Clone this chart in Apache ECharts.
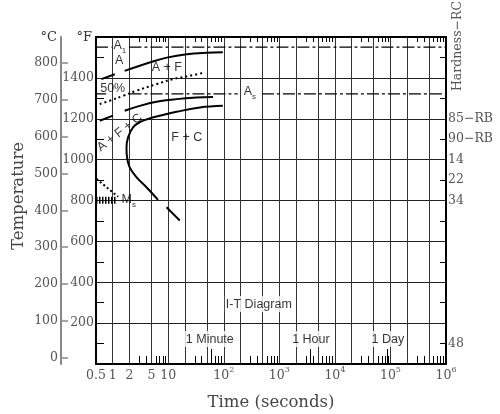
<!DOCTYPE html>
<html><head><meta charset="utf-8">
<script src="https://cdn.jsdelivr.net/npm/echarts@6/dist/echarts.min.js"></script>
<style>html,body{margin:0;padding:0;background:#fff}#c{width:500px;height:414px}</style>
</head><body><div id="c"></div>
<script>
// ---- data (time in seconds, temperature in °F) ----
const gridTimes = [1,2,5,10,20,50,100,200,500,1e3,2e3,5e3,1e4,2e4,5e4,1e5,2e5,5e5];
const minorMantissas = [3,4,6,7,8,9];
const decades = [1,10,100,1e3,1e4,1e5];
const markTimes = [60, 3600, 86400];
const timeLabels = [0.5,1,2,5,10,100,1e3,1e4,1e5,1e6];
const fLabels = [200,400,600,800,1000,1200,1400];
const cLabels = [0,100,200,300,400,500,600,700,800];
const hardnessTemps = [1200,1100,1000,900,800,100];
const hardnessText = ['85−RB','90−RB','14','22','34','48'];

const curveUpperA = [[0.625,1394],[1.09,1418]];
const curveUpperB = [[1.64,1434],[4.6,1475],[9.4,1499],[21.5,1516],[49,1523],[96,1525]];
const curve50 = [[0.583,1272],[0.88,1288],[1.53,1312],[2.67,1337],[6.1,1369],[12.2,1394],[24.4,1410],[42,1424]];
const curveLowerA = [[0.583,1190],[1.01,1215]];
const curveLowerB = [[1.64,1239],[3.06,1263],[6.1,1283],[14,1296],[32,1304],[64,1307]];
const curveNoseA = [[96,1263],[37,1255],[14.1,1234],[7,1215],[4.64,1202],[3.06,1183],[2.32,1158],[1.89,1109],[1.77,1060],[1.81,1011],[2.02,962],[2.67,914],[4.05,865],[6.55,803]];
const curveNoseB = [[9.3,767],[16.1,702]];
const a1Segments = [[[0.5,1550],[0.95,1550]],[[2,1550],[1e6,1550]]];
const asSegments = [[[0.5,1322],[0.76,1322]],[[2,1322],[178,1322]],[[485,1322],[1e6,1322]]];
const msHatch = [[0.5,801],[1.18,801]];
const msArrow = [[0.51,906],[1.25,818]];
const plotLabels = [
  {text:'{m|A}{u|1}', x:1.34, y:1553},
  {text:'A', x:1.3, y:1483},
  {text:'A + F', x:9.4, y:1449},
  {text:'50%', x:1.0, y:1346},
  {text:'A + F + C', x:1.33, y:1132, rotate:38},
  {text:'F + C', x:21.5, y:1107},
  {text:'{m|A}{u|s}', x:294, y:1327},
  {text:'{m|M}{v|s}', x:1.94, y:797},
  {text:'I-T Diagram', x:427, y:293, bg:true},
  {text:'1 Minute', x:56, y:122, bg:true},
  {text:'1 Hour', x:3700, y:122, bg:true},
  {text:'1 Day', x:90000, y:122, bg:true}
];

const minorTimes = [];
decades.forEach(d => minorMantissas.forEach(m => minorTimes.push(m * d)));

const SERIF = 'DejaVu Serif';
const SANS = 'Liberation Sans';
const LABEL_COLOR = '#555';

function fmtTime(v) {
  if (v >= 100) return '{b|10}{s|' + Math.round(Math.log10(v)) + '}';
  return '{b|' + v + '}';
}

const xBase = { type:'log', logBase:10, min:0.5, max:1e6, gridIndex:0 };
const hiddenLabel = { show:false };
const noSplit = { show:false };

const curveStyle = { color:'#000', width:2 };
function lineSeries(data, style, smooth) {
  return { type:'line', xAxisIndex:0, yAxisIndex:0, data:data, symbol:'none', smooth: smooth || false,
    lineStyle: style, silent:true, z:3, animation:false };
}

const series = [
  lineSeries(curveUpperA, curveStyle),
  lineSeries(curveUpperB, curveStyle, 0.4),
  lineSeries(curve50, { color:'#000', width:2, type:[2,3] }, 0.4),
  lineSeries(curveLowerA, curveStyle),
  lineSeries(curveLowerB, curveStyle, 0.4),
  lineSeries(curveNoseA, curveStyle, 0.4),
  lineSeries(curveNoseB, curveStyle),
  lineSeries(msHatch, { color:'#000', width:7, type:[1.5,1.5] }),
  lineSeries(msArrow, { color:'#000', width:2, type:[2,2.5] })
];
a1Segments.concat(asSegments).forEach(seg => series.push(lineSeries(seg, { color:'#000', width:1.2, type:[12,3,3,3] })));
series.push({
  type:'scatter', xAxisIndex:0, yAxisIndex:0, symbolSize:1, z:5, silent:true,
  itemStyle:{ color:'rgba(0,0,0,0)' },
  data: plotLabels.map(l => ({
    value:[l.x, l.y], text:l.text,
    label: Object.assign({ rotate: l.rotate || 0 }, l.bg ? { backgroundColor:'#fff', padding:[2,1,1,1] } : {})
  })),
  label:{
    show:true, position:'inside', color:'#000', fontFamily:SANS, fontSize:12.5,
    formatter: p => p.data.text,
    rich:{
      m:{ fontFamily:SANS, fontSize:12.5, color:'#000', lineHeight:16, verticalAlign:'top' },
      u:{ fontFamily:SANS, fontSize:8, color:'#000', lineHeight:8, verticalAlign:'bottom' },
      v:{ fontFamily:SANS, fontSize:8, color:'#000', lineHeight:8, verticalAlign:'bottom', padding:[4,0,0,0] }
    }
  }
});

const option = {
  animation:false,
  backgroundColor:'#fff',
  grid:{ left:96, right:54, top:37, bottom:50, containLabel:false, outerBoundsMode:'none' },
  xAxis:[
    Object.assign({}, xBase, {
      position:'bottom', name:'Time (seconds)', nameLocation:'middle', nameGap:30, nameMoveOverlap:false,
      nameTextStyle:{ fontFamily:SERIF, fontSize:16.5, color:'#444' },
      axisLine:{ show:true, onZero:false, lineStyle:{ color:'#000', width:2 } },
      axisTick:{ show:false, customValues: gridTimes },
      splitLine:{ show:true, lineStyle:{ color:'#333', width:1 } },
      minorTick:{ show:false }, minorSplitLine:{ show:false },
      axisLabel:{ customValues: timeLabels, formatter: fmtTime, margin:2, color:LABEL_COLOR,
        rich:{
          b:{ fontFamily:SERIF, fontSize:12.5, color:LABEL_COLOR, lineHeight:16, verticalAlign:'bottom' },
          s:{ fontFamily:SERIF, fontSize:8, color:LABEL_COLOR, lineHeight:10, verticalAlign:'top' }
        } }
    }),
    Object.assign({}, xBase, {
      position:'bottom', axisLine:{ show:false, onZero:false },
      axisTick:{ show:true, inside:true, length:8, customValues: minorTimes, lineStyle:{ color:'#000', width:1 } },
      axisLabel: hiddenLabel, splitLine: noSplit
    }),
    Object.assign({}, xBase, {
      position:'bottom', axisLine:{ show:false, onZero:false },
      axisTick:{ show:true, inside:true, length:15, customValues: markTimes, lineStyle:{ color:'#000', width:1 } },
      axisLabel: hiddenLabel, splitLine: noSplit
    }),
    Object.assign({}, xBase, {
      position:'top', axisLine:{ show:true, onZero:false, lineStyle:{ color:'#000', width:2 } },
      axisTick:{ show:true, inside:true, length:5, customValues: minorTimes, lineStyle:{ color:'#000', width:1 } },
      axisLabel: hiddenLabel, splitLine: noSplit
    })
  ],
  yAxis:[
    {
      type:'value', min:0, max:1600, interval:200, position:'left',
      name:'°F', nameLocation:'end', nameGap:-1,
      nameTextStyle:{ fontFamily:SERIF, fontSize:13, color:'#333', align:'right', verticalAlign:'middle', padding:[0,4,0,0] },
      axisLine:{ show:true, onZero:false, lineStyle:{ color:'#000', width:2 } },
      axisTick:{ show:false, inside:true },
      minorTick:{ show:true, splitNumber:2, length:8, lineStyle:{ color:'#000', width:1 } },
      axisLabel:{ customValues: fLabels, formatter: v => String(v), margin:2, fontFamily:SERIF, fontSize:12.5, color:LABEL_COLOR },
      splitLine:{ show:true, lineStyle:{ color:'#222', width:1 } }
    },
    {
      type:'value', min:(0 - 32) * 5 / 9, max:(1600 - 32) * 5 / 9, position:'left', offset:35,
      name:'°C', nameLocation:'end', nameGap:-1,
      nameTextStyle:{ fontFamily:SERIF, fontSize:13, color:'#333', align:'right', verticalAlign:'middle', padding:[0,4,0,0] },
      axisLine:{ show:true, onZero:false, lineStyle:{ color:'#888', width:2 } },
      axisTick:{ show:true, inside:true, length:7, customValues: cLabels, lineStyle:{ color:'#888', width:1.5 } },
      axisLabel:{ customValues: cLabels, formatter: v => String(v), margin:3, fontFamily:SERIF, fontSize:12.5, color:LABEL_COLOR },
      splitLine:{ show:false }
    },
    {
      type:'value', min:0, max:1600, interval:200, position:'right',
      axisLine:{ show:true, onZero:false, lineStyle:{ color:'#000', width:2 } },
      axisTick:{ show:false, inside:true },
      minorTick:{ show:true, splitNumber:2, length:6, lineStyle:{ color:'#000', width:1 } },
      axisLabel:{ customValues: hardnessTemps, margin:2, fontFamily:SERIF, fontSize:12.5, color:LABEL_COLOR,
        formatter: v => hardnessText[hardnessTemps.indexOf(v)] },
      splitLine:{ show:false }
    }
  ],
  graphic:[
    { type:'text', x:458, y:46, rotation:Math.PI/2, silent:true,
      style:{ text:'Hardness−RC', font:'12.5px "DejaVu Serif"', fill:LABEL_COLOR, align:'center', verticalAlign:'middle' } },
    { type:'text', x:19, y:196, rotation:Math.PI/2, silent:true,
      style:{ text:'Temperature', font:'16.5px "DejaVu Serif"', fill:'#444', align:'center', verticalAlign:'middle' } }
  ],
  series: series
};

const chart = echarts.init(document.getElementById('c'), null, { renderer:'canvas' });
chart.setOption(option);
</script>
</body></html>
